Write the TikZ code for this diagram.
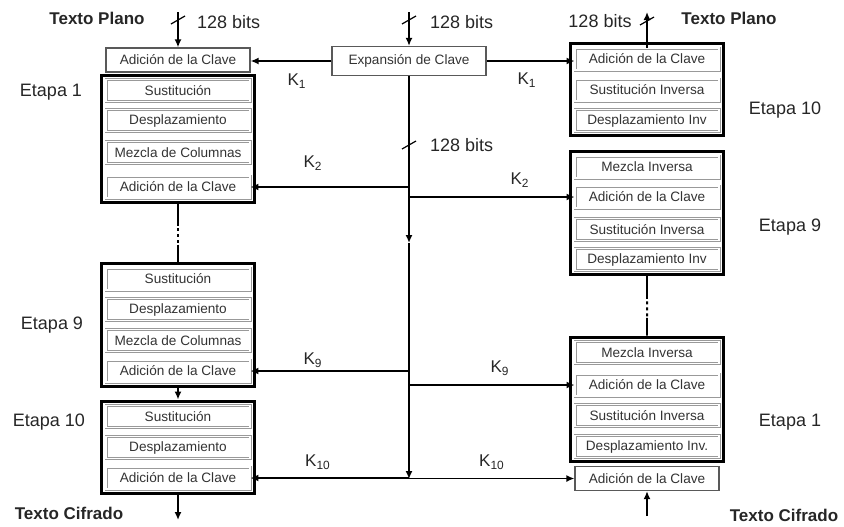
\documentclass[tikz,border=0pt]{standalone}
\usepackage{fontspec}
\setmainfont{Liberation Sans}
\usetikzlibrary{positioning,arrows.meta,calc,fit}

\tikzset{
  caja/.style={minimum width=72pt,minimum height=11pt,inner sep=0pt,text=black!80,font=\fontsize{6.8}{8}\selectfont},
  paso/.style={caja,draw=gray!80,double,double distance=0.6pt,line width=0.45pt},
  suelta/.style={caja,draw=gray!70!black,line width=0.6pt,minimum height=12pt},
  etapa/.style={draw,line width=1.5pt,inner sep=2pt},
  flecha/.style={-{Latex[length=4pt,width=3.5pt]},line width=0.9pt},
  linea/.style={line width=0.9pt},
  puntos/.style={line width=1pt,dash pattern=on 1.5pt off 1.5pt},
  marca/.style={line width=0.6pt},
  rotulo/.style={font=\fontsize{9}{10}\selectfont,text=black!85},
  titulo/.style={font=\fontsize{8.5}{10}\selectfont\bfseries,text=black!85},
  kval/.style={font=\fontsize{8.5}{10}\selectfont,text=black!85},
}

\begin{document}
\begin{tikzpicture}[x=0.5pt,y=-0.5pt]
\useasboundingbox (0,0) rectangle (844,526);
% cifrado
\node[suelta] (la0) at (178,60) {Adición de la Clave};
\foreach \y/\t/\n in {90.5/Sustitución/ls1,120.5/Desplazamiento/ld1,152.5/Mezcla de Columnas/lm1,187/Adición de la Clave/la1,
  279/Sustitución/ls9,309.5/Desplazamiento/ld9,340.5/Mezcla de Columnas/lm9,371/Adición de la Clave/la9,
  416.5/Sustitución/ls10,447.5/Desplazamiento/ld10,478/Adición de la Clave/la10}
  \node[paso] (\n) at (178,\y) {\t};
\node[etapa,fit=(ls1)(la1)] (e1l) {};
\node[etapa,fit=(ls9)(la9)] (e9l) {};
\node[etapa,fit=(ls10)(la10)] (e10l) {};
% descifrado
\foreach \y/\t/\n in {59/Adición de la Clave/ra10,90/Sustitución Inversa/rs10,120.5/Desplazamiento Inv/rd10,
  167/Mezcla Inversa/rm9,197/Adición de la Clave/ra9,229.5/Sustitución Inversa/rs9,259.5/Desplazamiento Inv/rd9,
  352.5/Mezcla Inversa/rm1,385/Adición de la Clave/ra1,415.5/Sustitución Inversa/rs1,446.5/Desplazamiento Inv./rd1}
  \node[paso] (\n) at (647,\y) {\t};
\node[suelta] (rb) at (647,478.5) {Adición de la Clave};
\node[etapa,fit=(ra10)(rd10)] (e10r) {};
\node[etapa,fit=(rm9)(rd9)] (e9r) {};
\node[etapa,fit=(rm1)(rd1)] (e1r) {};
% clave
\node[suelta,minimum width=77pt,minimum height=14.5pt] (exp) at (409,61) {Expansión de Clave};

\coordinate (inL) at (178,12);
\coordinate (inK) at (409,12);
\coordinate (outR) at (647,12);
\coordinate (inR) at (647,516);
\coordinate (outL) at (178,520);
\coordinate (medio) at (409,243);
\coordinate (fin) at (409,479);

\draw[flecha] (inL) -- (la0);
\draw[flecha] (inK) -- (exp);
\draw[flecha] (ra10.north) -- (outR);
\draw[flecha] (inR) -- (rb);
\draw[flecha] (e10l) -- (outL);
\draw[flecha] (e9l) -- (e10l);
\draw[flecha] (exp.west) -- (exp.west -| la0.east);
\draw[flecha] (exp.east) -- (exp.east -| ra10.west);
\draw[flecha] (exp.south) -- (medio);
\draw[flecha] (medio) -- (fin);
\foreach \n in {la1,la9,la10} \draw[flecha] (fin |- \n.east) -- (\n.east);
\foreach \n in {ra9,ra1,rb} \draw[flecha] (fin |- \n.west) -- (\n.west);

% puntos suspensivos
\foreach \a/\b in {e1l/e9l,e9r/e1r}{
  \draw[linea] (\a.south) -- ($(\a.south)!.38!(\b.north)$);
  \draw[puntos] ($(\a.south)!.42!(\b.north)$) -- ($(\a.south)!.68!(\b.north)$);
  \draw[linea] ($(\a.south)!.70!(\b.north)$) -- (\b.north);
}
\foreach \x/\y in {178/20,409/20,409/145,647/21} \draw[marca] (\x-7,\y+4) -- (\x+7,\y-4);

\node[titulo] (tp1) at (97,18) {Texto Plano};
\node[titulo] (tp2) at (729,18) {Texto Plano};
\node[titulo] (tc1) at (69,513) {Texto Cifrado};
\node[titulo] (tc2) at (784,515) {Texto Cifrado};
\node[rotulo,anchor=west] (b1) at (190,22) {128 bits};
\node[rotulo,anchor=west] (b2) at (423,22) {128 bits};
\node[rotulo,anchor=west] (b3) at (423,145) {128 bits};
\node[rotulo] (b4) at (600,21) {128 bits};
\foreach \x/\y/\t [count=\i] in {51/92/Etapa 1,52/325/Etapa 9,49/422/Etapa 10,785/110/Etapa 10,790/227/Etapa 9,790/422/Etapa 1}
  \node[rotulo] (et\i) at (\x,\y) {\t};
\foreach \x/\y/\k [count=\i] in {297/81/1,527/80/1,313/163/2,520/180/2,313/360/9,500/368/9,318/462/10,492/462/10}
  \node[kval] (k\i) at (\x,\y) {K\textsubscript{\k}};
\end{tikzpicture}
\end{document}
